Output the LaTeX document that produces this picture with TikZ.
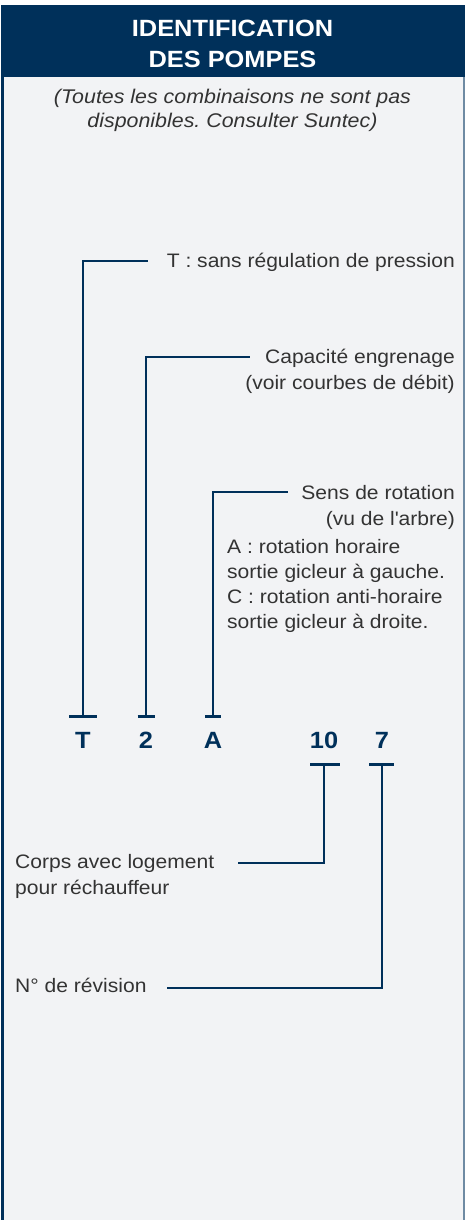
\documentclass[tikz,border=0pt]{standalone}
\usepackage{fontspec}
\setmainfont{Liberation Sans}[FakeStretch=1.08]
\usetikzlibrary{positioning}
\frenchspacing

\definecolor{navy}{HTML}{00305A}
\definecolor{panel}{HTML}{F2F3F5}
\definecolor{ink}{HTML}{333333}
\definecolor{rim}{HTML}{6F8BA3}

\begin{document}
\begin{tikzpicture}[
    x=1pt, y=-1pt,
    node distance=0pt,
    lead/.style={draw=navy, line width=2.8pt},
    desc/.style={text=ink, inner sep=0pt, font=\fontsize{19.5}{25.8}\selectfont},
    codebox/.style={text=navy, font=\fontsize{23.5}{26}\selectfont\bfseries, text height=16.5pt, text depth=1.5pt, inner xsep=0pt, inner ysep=14.5pt}
]

\useasboundingbox (0,0) rectangle (465,1220);
\fill[white] (0,0) rectangle (465,1220);
\fill[panel] (1,77) rectangle (463,1220);
\fill[navy] (1,5) rectangle (465,77);
\draw[navy, line width=2.5pt] (2.5,77) -- (2.5,1220);
\draw[rim, line width=2pt] (464,77) -- (464,1220);

% multi-line nodes sit on the baseline of their last line
\node[inner sep=0pt, text=white, align=center, font=\fontsize{23.5}{31}\selectfont\bfseries, anchor=base] (title) at (232.5,68) {IDENTIFICATION\\DES POMPES};
\node[desc, align=center, font=\fontsize{19.8}{24.5}\selectfont\itshape, anchor=base] (remark) at (232.5,128) {(Toutes les combinaisons ne sont pas\\disponibles. Consulter Suntec)};

\node[codebox, anchor=base] (cT) at (83,748) {T};
\node[codebox, anchor=base] (c2) at (146,748) {2};
\node[codebox, anchor=base] (cA) at (213,748) {A};
\node[codebox, anchor=base] (c10) at (324,748) {10};
\node[codebox, anchor=base] (c7) at (382,748) {7};

\node[desc, anchor=base east] (lT) at (455,267) {T : sans régulation de pression};
\node[desc, anchor=base east, align=right] (l2) at (455,389) {Capacité engrenage\\(voir courbes de débit)};
\node[desc, anchor=base east, align=right] (lA) at (455,525) {Sens de rotation\\(vu de l\textquotesingle arbre)};
\node[desc, anchor=base west, align=left, font=\fontsize{19.5}{25}\selectfont] (lAx) at (227,628) {A : rotation horaire\\sortie gicleur à gauche.\\C : rotation anti-horaire\\sortie gicleur à droite.};
\node[desc, anchor=base west, align=left] (l10) at (15,894) {Corps avec logement\\pour réchauffeur};
\node[desc, anchor=base west] (l7) at (15,992) {N° de révision};

\draw[lead] ([xshift=-14pt]cT.north) -- ([xshift=14pt]cT.north);
\draw[lead] ([xshift=-8.5pt]c2.north) -- ([xshift=8.5pt]c2.north);
\draw[lead] ([xshift=-8pt]cA.north) -- ([xshift=8pt]cA.north);
\draw[lead] ([xshift=-14pt]c10.south) -- ([xshift=16pt]c10.south);
\draw[lead] ([xshift=-13pt]c7.south) -- ([xshift=12pt]c7.south);

\draw[lead] (cT.north) |- ([shift={(-19pt,6pt)}]lT.base west);
\draw[lead] (c2.north) |- ([shift={(5pt,32pt)}]l2.base west);
\draw[lead] (cA.north) |- ([shift={(-13pt,33pt)}]lA.base west);
\draw[lead] (c10.south) |- ([shift={(24pt,31pt)}]l10.base east);
\draw[lead] (c7.south) |- ([shift={(20pt,4pt)}]l7.base east);

\end{tikzpicture}
\end{document}
